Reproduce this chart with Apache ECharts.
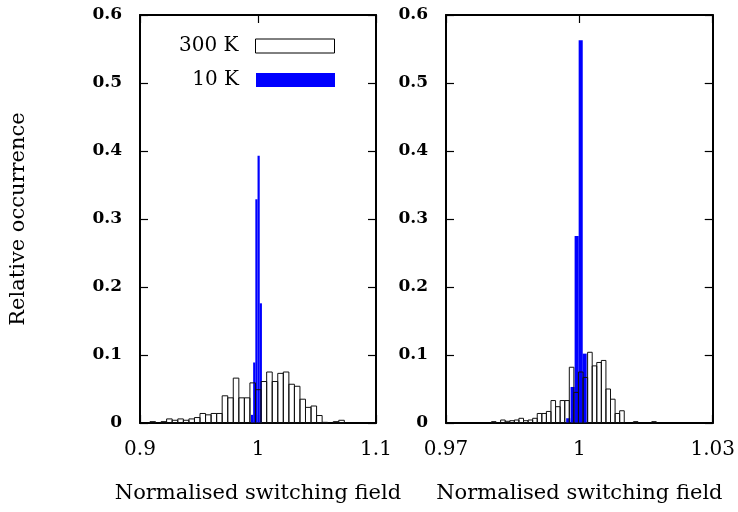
<!DOCTYPE html>
<html><head><meta charset="utf-8">
<script src="https://cdn.jsdelivr.net/npm/echarts@6/dist/echarts.min.js"></script>
<style>html,body{margin:0;padding:0;background:#fff}#c{width:738px;height:512px}</style>
</head><body><div id="c"></div><script>
// ---- data ----
const seriesNames = ['300 K', '10 K'];
const yTicks = [0, 0.1, 0.2, 0.3, 0.4, 0.5, 0.6];
const xTicksLeft = [0.9, 1, 1.1];
const xTicksRight = [0.97, 1, 1.03];

// left panel, 300 K (bin centres / relative occurrence)
const leftWarmX = [0.9108,0.9202,0.9249,0.9296,0.9344,0.9391,0.9438,0.9485,0.9532,0.9579,0.9626,0.9673,0.9720,0.9767,0.9814,0.9861,0.9908,0.9955,1.0002,1.0050,1.0097,1.0144,1.0191,1.0238,1.0285,1.0332,1.0379,1.0426,1.0473,1.0520,1.0567,1.0661,1.0708];
const leftWarmY = [0.002,0.002,0.006,0.004,0.006,0.004,0.006,0.008,0.014,0.012,0.014,0.014,0.040,0.037,0.066,0.037,0.037,0.059,0.049,0.061,0.075,0.061,0.073,0.075,0.057,0.054,0.035,0.023,0.025,0.011,0.001,0.002,0.004];
// left panel, 10 K
const leftColdX = [0.99496,0.99682,0.99868,1.00054,1.0024];
const leftColdY = [0.012,0.089,0.329,0.393,0.176];

// right panel, 300 K
const rightWarmX = [0.98074,0.98280,0.98383,0.98486,0.98589,0.98692,0.98795,0.98898,0.99001,0.99104,0.99207,0.99310,0.99413,0.99516,0.99619,0.99722,0.99825,0.99928,1.00031,1.00134,1.00237,1.00340,1.00443,1.00546,1.00649,1.00752,1.00855,1.00958,1.01267,1.01679];
const rightWarmY = [0.002,0.0044,0.0025,0.0034,0.0044,0.0069,0.0034,0.0044,0.0069,0.014,0.014,0.017,0.033,0.024,0.033,0.033,0.082,0.045,0.075,0.067,0.104,0.084,0.089,0.092,0.050,0.035,0.014,0.018,0.002,0.002];
// right panel, 10 K
const rightColdX = [0.99749,0.99848,0.99939,1.0003,1.00119];
const rightColdY = [0.007,0.053,0.275,0.563,0.102];

const binW = { leftWarm: 0.004706, leftCold: 0.00186, rightWarm: 0.00103, rightCold: 0.00092 };

// ---- chart ----
const FONT = 'DejaVu Serif';
const zip = (xs, ys) => xs.map((x, i) => [x, ys[i]]);

function barRenderer(w, fill, stroke) {
  return function (params, api) {
    const x = api.value(0), y = api.value(1);
    const p0 = api.coord([x - w / 2, y]);
    const p1 = api.coord([x + w / 2, 0]);
    return {
      type: 'rect',
      shape: { x: p0[0], y: p0[1], width: p1[0] - p0[0], height: p1[1] - p0[1] },
      style: { fill: fill, stroke: stroke, lineWidth: stroke ? 1 : 0 }
    };
  };
}

function xAx(grid, min, max, ticks, pos, showLabel) {
  return {
    type: 'value', gridIndex: grid, min: min, max: max, position: pos,
    axisLine: { show: true, onZero: false, lineStyle: { color: '#000', width: 2 } },
    axisTick: { show: true, inside: true, length: 8, customValues: ticks, lineStyle: { color: '#000', width: 1.2 } },
    axisLabel: { show: showLabel, customValues: ticks, margin: 17, color: '#000', fontFamily: FONT, fontSize: 20,
      formatter: v => String(+(+v).toFixed(2)) },
    splitLine: { show: false },
    name: showLabel ? 'Normalised switching field' : '', nameLocation: 'middle', nameGap: 60,
    nameTextStyle: { color: '#000', fontFamily: FONT, fontSize: 21 }
  };
}
function yAx(grid, pos, showLabel, title) {
  return {
    type: 'value', gridIndex: grid, min: 0, max: 0.6, interval: 0.1, position: pos,
    axisLine: { show: true, onZero: false, lineStyle: { color: '#000', width: 2 } },
    axisTick: { show: true, inside: true, length: 8, lineStyle: { color: '#000', width: 1.2 } },
    axisLabel: { show: showLabel, margin: 18, color: '#000', fontFamily: FONT, fontSize: 17, fontWeight: 'bold',
      formatter: v => String(+(+v).toFixed(1)) },
    splitLine: { show: false },
    name: title || '', nameLocation: 'middle', nameGap: 111, nameRotate: 90,
    nameTextStyle: { color: '#000', fontFamily: FONT, fontSize: 21 }
  };
}

const legendBase = {
  orient: 'vertical', align: 'right', icon: 'rect', itemWidth: 79, itemHeight: 14,
  selectedMode: false, right: 403, padding: 0,
  textStyle: { color: '#000', fontFamily: FONT, fontSize: 20, padding: [0, 12, 0, 0] }
};

const option = {
  animation: false,
  backgroundColor: '#fff',
  grid: [
    { left: 140, top: 15, width: 236, height: 408 },
    { left: 446, top: 15, width: 268, height: 408 }
  ],
  legend: [
    Object.assign({}, legendBase, { top: 36, data: [{ name: seriesNames[0], itemStyle: { color: '#fff', borderColor: '#000', borderWidth: 1 } }] }),
    Object.assign({}, legendBase, { top: 70, data: [{ name: seriesNames[1], itemStyle: { color: '#0000ff' } }] })
  ],
  xAxis: [
    xAx(0, 0.9, 1.1, xTicksLeft, 'bottom', true),
    xAx(0, 0.9, 1.1, xTicksLeft, 'top', false),
    xAx(1, 0.97, 1.03, xTicksRight, 'bottom', true),
    xAx(1, 0.97, 1.03, xTicksRight, 'top', false)
  ],
  yAxis: [
    yAx(0, 'left', true, 'Relative occurrence'),
    yAx(0, 'right', false),
    yAx(1, 'left', true),
    yAx(1, 'right', false)
  ],
  series: [
    { type: 'custom', name: seriesNames[1], xAxisIndex: 0, yAxisIndex: 0, z: 2,
      renderItem: barRenderer(binW.leftCold, '#0000ff', null), data: zip(leftColdX, leftColdY) },
    { type: 'custom', name: seriesNames[0], xAxisIndex: 0, yAxisIndex: 0, z: 3,
      renderItem: barRenderer(binW.leftWarm, 'rgba(0,0,0,0)', '#111'), data: zip(leftWarmX, leftWarmY) },
    { type: 'custom', name: seriesNames[1], xAxisIndex: 2, yAxisIndex: 2, z: 2,
      renderItem: barRenderer(binW.rightCold, '#0000ff', null), data: zip(rightColdX, rightColdY) },
    { type: 'custom', name: seriesNames[0], xAxisIndex: 2, yAxisIndex: 2, z: 3,
      renderItem: barRenderer(binW.rightWarm, 'rgba(0,0,0,0)', '#111'), data: zip(rightWarmX, rightWarmY) }
  ]
};
const chart = echarts.init(document.getElementById('c'), null, { renderer: 'canvas' });
chart.setOption(option);
</script></body></html>
